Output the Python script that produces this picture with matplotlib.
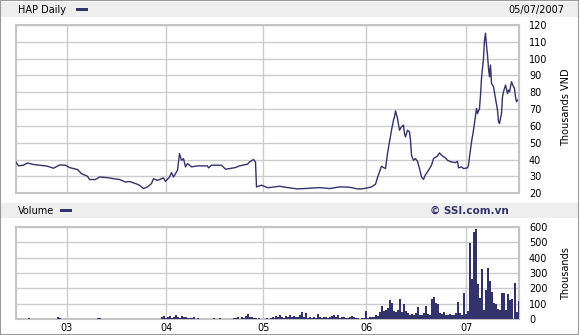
import matplotlib
matplotlib.use('Agg')
import matplotlib.pyplot as plt
from matplotlib.patches import Rectangle
import numpy as np

plt.rcParams['font.family'] = ['DejaVu Sans']

# session index (roughly one unit per two trading days) and closing price, thousands VND
t_price = [0, 1.5, 4, 6, 9, 12, 16, 19, 22, 25, 27, 31, 33, 36, 37, 40, 42, 46, 49, 52,
           55, 57, 60, 62, 64, 66, 68, 69, 71, 74, 75, 77, 78, 79, 81, 81.5, 82, 83, 84, 85,
           86, 88, 91, 96, 96.5, 98, 103, 105, 110, 112, 116, 117, 119, 120, 120.5, 123, 126,
           127, 132, 136, 141, 147, 152, 157, 161, 163, 167, 171, 173, 176, 178, 180, 181,
           183, 184, 185, 186, 187, 188, 189, 189.5, 190, 191, 192, 193, 194, 194.5, 195,
           196, 197, 197.5, 198, 199, 200, 201, 202, 203, 204, 205, 206, 208, 209, 211, 212,
           213, 215, 216, 218, 220, 221, 221.5, 223, 224, 226, 226.5, 227, 228, 229, 230,
           230.5, 231, 232, 232.5, 233, 234, 234.5, 235, 235.5, 236, 236.5, 237, 237.5, 238,
           239, 240, 241, 241.5, 242, 243, 243.5, 244, 245, 246, 246.5, 247, 248, 249, 249.5,
           250, 250.5, 251]
price = [39.0, 36.3, 36.7, 38.0, 37.1, 36.7, 36.1, 34.9, 36.8, 36.7, 35.3, 34.1, 31.7, 30.1,
         28.2, 28.2, 29.7, 29.3, 28.7, 28.2, 26.7, 27.0, 25.8, 24.8, 22.8, 23.8, 25.8, 28.7,
         27.7, 29.1, 27.1, 29.7, 32.3, 29.7, 33.7, 38.6, 43.6, 39.6, 40.6, 35.7, 37.7, 35.7,
         36.3, 36.3, 35.1, 36.7, 36.7, 34.3, 35.3, 36.3, 37.3, 38.6, 40.1, 38.6, 23.8, 24.8,
         23.4, 23.4, 24.2, 23.4, 22.6, 23.0, 23.4, 22.8, 23.6, 23.8, 23.6, 22.6, 22.6, 23.2,
         23.8, 25.4, 29.3, 36.1, 35.3, 34.7, 43.6, 50.5, 57.5, 63.5, 65.4, 69.0, 64.5, 57.5,
         59.5, 60.5, 55.5, 53.5, 57.5, 56.5, 51.5, 42.6, 39.6, 40.6, 39.0, 34.7, 29.7, 28.3,
         31.1, 32.7, 36.7, 40.6, 42.2, 44.0, 42.6, 41.0, 39.6, 38.6, 38.2, 39.0, 35.1, 35.7,
         34.7, 35.1, 36.7, 41.6, 50.5, 57.5, 66.4, 70.4, 67.4, 70.4, 78.3, 88.3, 100.2, 111.1,
         115.1, 108.1, 102.1, 94.2, 89.2, 96.2, 85.3, 83.3, 76.4, 69.4, 62.4, 61.5, 67.4, 77.3,
         80.3, 84.3, 79.3, 81.3, 80.3, 86.3, 83.3, 82.3, 77.3, 74.4, 75.4]

# volume, thousands of shares, one bar per session index
volume = ([0, 0, 0, 0, 0, 0, 8, 0, 0, 0] + [0] * 10 + [0, 12, 8, 0, 0, 0, 0, 0, 0, 0]
          + [0, 0, 4, 0, 0, 0, 0, 0, 0, 0] + [0, 6, 8, 0, 0, 0, 0, 0, 0, 0]
          + [0, 0, 0, 0, 0, 0, 3, 0, 0, 0] + [0, 0, 0, 0, 0, 0, 0, 0, 0, 3] + [0, 0]
          + [5, 12, 20, 8, 15, 22, 10, 18, 25, 14, 9, 20, 12, 16, 8, 10, 6, 12, 5, 8]
          + [4, 3, 0, 5, 0, 4, 0, 6, 0, 3, 8, 0, 4, 0, 5, 0, 3, 6]
          + [8, 12, 5, 15, 10, 20, 35, 12, 18, 8, 10, 6]
          + [0, 4, 0, 6, 3, 8]
          + [15, 10, 20, 12, 25, 18, 10, 22, 15, 28, 12, 20, 18, 14, 25, 45, 16]
          + [43, 10, 15, 8, 12, 6, 37, 14, 10, 18, 12, 8, 15, 20, 28, 12, 26, 10, 14, 18,
             10, 8, 12, 22, 15, 8, 6, 4, 8, 6]
          + [56, 10, 12, 14, 18, 30, 24]
          + [45, 86, 55, 60, 76, 125, 108]
          + [55, 48, 60, 130]
          + [50, 97, 54, 40, 30, 35, 28, 40, 82, 30, 25, 40, 86, 35, 30, 134, 147, 108, 100,
             40, 35, 45, 30, 28, 35, 25, 30, 38, 115, 40, 30, 168, 35, 55, 492, 263, 566, 588,
             227, 140, 328, 60, 190, 335, 248, 180, 108, 100, 65, 60, 168, 170, 60, 162, 125,
             130, 238, 50, 117])

year_ticks = [25.5, 75.4, 123.9, 175.5, 225.5]
year_labels = ['03', '04', '05', '06', '07']
price_ticks = [20, 30, 40, 50, 60, 70, 80, 90, 100, 110, 120]
vol_ticks = [0, 100, 200, 300, 400, 500, 600]

navy = '#33336b'
grid_c = '#cccccc'
W, H = 579, 335

fig = plt.figure(figsize=(W / 100, H / 100), dpi=100)
fig.patch.set_facecolor('white')


def box(px_left, px_top, px_right, px_bottom):
    return [px_left / W, 1 - px_bottom / H, (px_right - px_left) / W, (px_bottom - px_top) / H]


# header bands
for y0, y1 in [(1.7, 16.7), (202.7, 217.7)]:
    fig.patches.append(Rectangle((1 / W, 1 - y1 / H), 577 / W, (y1 - y0) / H,
                                 transform=fig.transFigure, facecolor='#eeeeee',
                                 edgecolor='none', zorder=0))
fig.patches.append(Rectangle((0, 0), 1, 1, transform=fig.transFigure, facecolor='none',
                             edgecolor='#999999', lw=1.5, zorder=5))

ax = fig.add_axes(box(15.5, 25, 518.5, 193.3))
axv = fig.add_axes(box(15.5, 226.7, 518.5, 319.3))

ax.plot(t_price, price, color=navy, lw=1.0, zorder=3)
ax.set_ylim(20, 120)
ax.set_yticks(price_ticks)

axv.bar(np.arange(len(volume)) + 0.5, volume, width=1.0, color=navy, lw=0, zorder=3)
axv.set_ylim(0, 600)
axv.set_yticks(vol_ticks)

for a in (ax, axv):
    a.set_xlim(0, 251.5)
    a.set_xticks(year_ticks)
    a.yaxis.tick_right()
    a.grid(True, color=grid_c, lw=1.0, zorder=0)
    a.tick_params(length=0, labelsize=7, pad=7.6, colors='black')
    for s in a.spines.values():
        s.set_color('#c4c4c4')
        s.set_linewidth(1.5)
    for lab in a.get_yticklabels():
        lab.set_horizontalalignment('left')

ax.set_xticklabels([])
axv.set_xticklabels(year_labels)
axv.tick_params(axis='x', pad=2.5)

# header texts
fig.text(17.7 / W, 1 - 10 / H, 'HAP Daily', fontsize=7, va='center', ha='left')
fig.patches.append(Rectangle((76.4 / W, 1 - 11.3 / H), 11.5 / W, 3 / H,
                             transform=fig.transFigure, facecolor=navy, edgecolor='none'))
fig.text(564 / W, 1 - 10 / H, '05/07/2007', fontsize=7, va='center', ha='right')
fig.text(17.7 / W, 1 - 210.7 / H, 'Volume', fontsize=7, va='center', ha='left')
fig.patches.append(Rectangle((59.8 / W, 1 - 211.7 / H), 11.8 / W, 3 / H,
                             transform=fig.transFigure, facecolor=navy, edgecolor='none'))
fig.text(429.5 / W, 1 - 210.7 / H, '© SSI.com.vn', fontsize=7.5, fontweight='bold',
         color=navy, va='center', ha='left')

fig.text(566 / W, 1 - 107 / H, 'Thousands VND', fontsize=7, rotation=90,
         va='center', ha='center')
fig.text(566 / W, 1 - 274 / H, 'Thousands', fontsize=7, rotation=90,
         va='center', ha='center')

fig.savefig('out.png', dpi=100)
